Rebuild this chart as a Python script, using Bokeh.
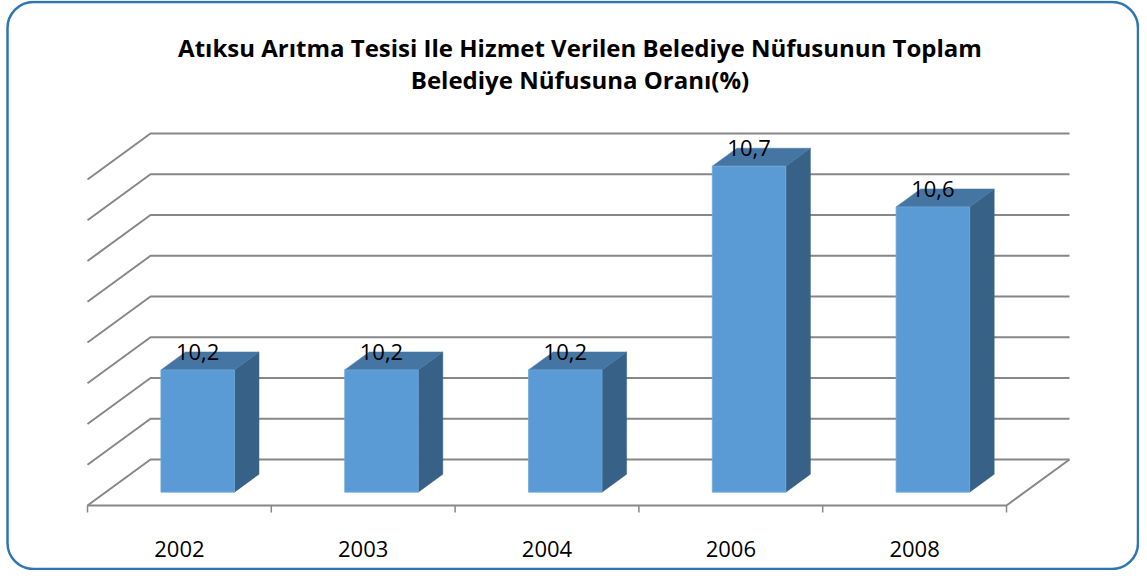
from bokeh.plotting import figure
from bokeh.models import Range1d, BoxAnnotation
from bokeh.core.properties import value
from bokeh.embed import file_html
from bokeh.resources import INLINE

# ---- data ----
years = ["2002", "2003", "2004", "2006", "2008"]
rates = [10.2, 10.2, 10.2, 10.7, 10.6]
rate_labels = ["10,2", "10,2", "10,2", "10,7", "10,6"]
grid_values = [9.9, 10.0, 10.1, 10.2, 10.3, 10.4, 10.5, 10.6, 10.7]
title_lines = ["Atıksu Arıtma Tesisi Ile Hizmet Verilen Belediye Nüfusunun Toplam",
               "Belediye Nüfusuna Oranı(%)"]

# ---- layout (pixel geometry of the pseudo-3D box) ----
W, H = 1139, 570
CW = 183.8         # px per category
U = 407.5          # px per value unit
X0 = 87            # px of front-left floor corner
Y0 = 505           # px (from top) of base value at front
BASE = grid_values[0]
DX_PX, DY_PX = 63, 46
D0, D1 = 0.29, 0.68
HALF = 0.2

x_range = Range1d(-X0 / CW, (W - X0) / CW)
y_range = Range1d(BASE - (H - Y0) / U, BASE + Y0 / U)
DXd = DX_PX / CW
DYd = DY_PX / U


def P(x, v, d):
    return x + d * DXd, v + d * DYd


def rx(px):  # image px -> data x
    return (px - X0) / CW


def ry(py):  # image px -> data y
    return BASE + (Y0 - py) / U


p = figure(width=W, height=H, x_range=x_range, y_range=y_range,
           output_backend="svg", toolbar_location=None, min_border=0,
           x_axis_location=None, y_axis_location=None,
           outline_line_color=None, background_fill_color="white",
           border_fill_color="white")
p.xgrid.visible = False
p.ygrid.visible = False

GRID = "#878787"
n = len(years)

# walls: side + back gridlines
gx, gy = [], []
for t in grid_values:
    a = P(0, t, 0)
    b = P(0, t, 1)
    c = P(n, t, 1)
    gx.append([a[0], b[0], c[0]])
    gy.append([a[1], b[1], c[1]])
# floor front edge and right edge
a = P(0, BASE, 0); b = P(n, BASE, 0); c = P(n, BASE, 1)
gx.append([a[0], b[0], c[0]]); gy.append([a[1], b[1], c[1]])
p.multi_line(gx, gy, line_color=GRID, line_width=2)

# category ticks
tx, ty = [], []
for i in range(n + 1):
    a = P(i, BASE, 0)
    tx.append([a[0], a[0]])
    ty.append([a[1], a[1] - 7 / U])
p.multi_line(tx, ty, line_color=GRID, line_width=1.5)

# bars
fx, fy, topx, topy, sx, sy = [], [], [], [], [], []
for i, v in enumerate(rates):
    xl, xr = i + 0.5 - HALF, i + 0.5 + HALF
    pts = [P(xl, BASE, D0), P(xr, BASE, D0), P(xr, v, D0), P(xl, v, D0)]
    fx.append([q[0] for q in pts]); fy.append([q[1] for q in pts])
    pts = [P(xl, v, D0), P(xr, v, D0), P(xr, v, D1), P(xl, v, D1)]
    topx.append([q[0] for q in pts]); topy.append([q[1] for q in pts])
    pts = [P(xr, BASE, D0), P(xr, BASE, D1), P(xr, v, D1), P(xr, v, D0)]
    sx.append([q[0] for q in pts]); sy.append([q[1] for q in pts])

p.patches(sx, sy, fill_color="#386188", line_color="#386188", line_width=0.5)
p.patches(topx, topy, fill_color="#4576A3", line_color="#4576A3", line_width=0.5)
p.patches(fx, fy, fill_color="#5B9BD5", line_color="#6FA8DC", line_width=0.8)

# value labels
lx = [P(i + 0.5, v, D0)[0] for i, v in enumerate(rates)]
ly = [P(i + 0.5, v, D1)[1] for i, v in enumerate(rates)]
p.text(lx, ly, text=rate_labels, text_font=value("Open Sans"),
       text_font_size="22px", text_align="center", text_baseline="alphabetic",
       text_color="black")

# category labels
cx = [i + 0.5 for i in range(n)]
cy = [ry(548.5)] * n
p.text(cx, cy, text=years, text_font=value("Open Sans"),
       text_font_size="22px", text_align="center", text_baseline="alphabetic",
       text_color="black")

# title
p.text([rx(579.5), rx(579.5)], [ry(47), ry(79)], text=title_lines,
       text_font=value("Open Sans"), text_font_style="bold", text_font_size="24px",
       text_align="center", text_baseline="alphabetic", text_color="black")

# rounded chart border
p.add_layout(BoxAnnotation(left=rx(7), right=rx(1137.5), top=ry(1.5),
                           bottom=ry(568.5), border_radius=26,
                           fill_color=None, fill_alpha=0,
                           line_color="#2F74B5", line_alpha=1, line_width=2.5))

open("out.html", "w").write(file_html(p, INLINE))
